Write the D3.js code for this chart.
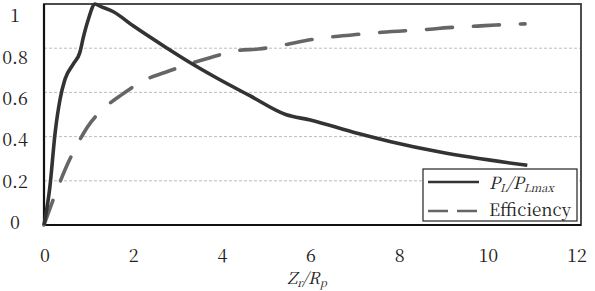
<!DOCTYPE html>
<html>
<head>
<meta charset="utf-8">
<script src="https://cdnjs.cloudflare.com/ajax/libs/d3/7.8.5/d3.min.js"></script>
</head>
<body style="margin:0; background:#fff">
<svg id="chart"></svg>
<script>
const width = 595, height = 291;
const FONT = '"Noto Serif CJK SC", "Liberation Serif", serif';

// Z_r / R_p values and the two series
const powerX = [0, 0.13, 0.25, 0.36, 0.47, 0.66, 0.8, 0.88, 0.99, 1.14, 1.25, 1.55, 2.0, 2.75, 3.26, 3.86, 4.6, 5.4, 5.95, 7.0, 7.75, 8.85, 10.8];
const powerY = [0, 0.17, 0.42, 0.57, 0.66, 0.73, 0.78, 0.85, 0.93, 1.0, 0.99, 0.965, 0.9, 0.8, 0.735, 0.665, 0.585, 0.5, 0.475, 0.415, 0.377, 0.33, 0.27];

const effX = [0, 0.31, 0.47, 0.76, 0.96, 1.41, 1.74, 2.29, 2.7, 3.26, 3.71, 4.34, 4.79, 5.42, 5.83, 6.46, 6.88, 7.55, 8.63, 9.03, 9.68, 10.1, 10.75];
const effY = [0, 0.17, 0.25, 0.37, 0.44, 0.54, 0.59, 0.66, 0.69, 0.73, 0.757, 0.79, 0.796, 0.817, 0.834, 0.852, 0.86, 0.872, 0.886, 0.893, 0.9, 0.905, 0.91];

const xTicks = [0, 2, 4, 6, 8, 10, 12];
const yTicks = [0, 0.2, 0.4, 0.6, 0.8, 1];
const yGrid = [0.2, 0.4, 0.6, 0.8];

const plotLeft = 44, plotRight = 581, plotTop = 4, plotBottom = 225;

const x = d3.scaleLinear().domain([0, 12]).range([plotLeft, plotRight]);
const y = d3.scaleLinear().domain([0, 1]).range([plotBottom, plotTop]);

// tick labels in the figure sit on a slightly tighter spacing than the grid
const xLab = d3.scaleLinear().domain([0, 12]).range([45, 577]);
const yLab = d3.scaleLinear().domain([0, 1]).range([222.5, 16]);

const svg = d3.select("#chart")
    .attr("width", width)
    .attr("height", height)
    .attr("viewBox", [0, 0, width, height])
    .style("display", "block");

svg.append("rect")
    .attr("width", width)
    .attr("height", height)
    .attr("fill", "#fff");

// grid
svg.append("g")
    .selectAll("line")
    .data(yGrid)
    .join("line")
    .attr("x1", plotLeft)
    .attr("x2", plotRight)
    .attr("y1", d => y(d))
    .attr("y2", d => y(d))
    .attr("stroke", "#bdbdbd")
    .attr("stroke-width", 1)
    .attr("stroke-dasharray", "3,2");

// plot box
svg.append("rect")
    .attr("x", plotLeft)
    .attr("y", plotTop)
    .attr("width", plotRight - plotLeft)
    .attr("height", plotBottom - plotTop)
    .attr("fill", "none")
    .attr("stroke", "#3a3a3a")
    .attr("stroke-width", 1.8);

svg.append("path")
    .attr("d", `M${plotLeft},${plotTop}V${plotBottom}H${plotRight}`)
    .attr("fill", "none")
    .attr("stroke", "#111")
    .attr("stroke-width", 2.2);

// tick labels
svg.append("g")
    .selectAll("text")
    .data(yTicks)
    .join("text")
    .attr("x", 15)
    .attr("y", d => yLab(d))
    .attr("dy", "0.36em")
    .attr("text-anchor", "middle")
    .attr("font-family", FONT)
    .attr("font-size", 18)
    .attr("fill", "#222")
    .text(d => d);

svg.append("g")
    .selectAll("text")
    .data(xTicks)
    .join("text")
    .attr("x", d => xLab(d))
    .attr("y", 256)
    .attr("dy", "0.36em")
    .attr("text-anchor", "middle")
    .attr("font-family", FONT)
    .attr("font-size", 18)
    .attr("fill", "#222")
    .text(d => d);

// axis title Z_r/R_p
const title = svg.append("text")
    .attr("x", 307)
    .attr("y", 284)
    .attr("text-anchor", "middle")
    .attr("font-family", FONT)
    .attr("font-size", 16.5)
    .attr("font-style", "italic")
    .attr("fill", "#222");
title.append("tspan").text("Z");
title.append("tspan").attr("font-size", 11).attr("dy", 3).text("r");
title.append("tspan").attr("dy", -3).text("/R");
title.append("tspan").attr("font-size", 11).attr("dy", 3).text("p");

// curves
const line = d3.line()
    .x(d => x(d[0]))
    .y(d => y(d[1]))
    .curve(d3.curveMonotoneX);

svg.append("path")
    .datum(d3.zip(effX, effY))
    .attr("fill", "none")
    .attr("stroke", "#666")
    .attr("stroke-width", 3.6)
    .attr("stroke-linecap", "round")
    .attr("stroke-dasharray", "26,21")
    .attr("d", line);

svg.append("path")
    .datum(d3.zip(powerX, powerY))
    .attr("fill", "none")
    .attr("stroke", "#333")
    .attr("stroke-width", 3.6)
    .attr("stroke-linejoin", "round")
    .attr("d", line);

// legend
const legend = svg.append("g");

legend.append("rect")
    .attr("x", 423)
    .attr("y", 169)
    .attr("width", 154)
    .attr("height", 52)
    .attr("fill", "#fff")
    .attr("stroke", "#222")
    .attr("stroke-width", 1.2);

legend.append("line")
    .attr("x1", 428).attr("x2", 479)
    .attr("y1", 182).attr("y2", 182)
    .attr("stroke", "#333")
    .attr("stroke-width", 2.6);

legend.append("line")
    .attr("x1", 428).attr("x2", 479)
    .attr("y1", 211).attr("y2", 211)
    .attr("stroke", "#666")
    .attr("stroke-width", 2.6)
    .attr("stroke-dasharray", "20,9");

const lab1 = legend.append("text")
    .attr("x", 489)
    .attr("y", 189)
    .attr("font-family", FONT)
    .attr("font-size", 17)
    .attr("font-style", "italic")
    .attr("fill", "#222");
lab1.append("tspan").text("P");
lab1.append("tspan").attr("font-size", 11).attr("dy", 3).text("L");
lab1.append("tspan").attr("dy", -3).text("/P");
lab1.append("tspan").attr("font-size", 11).attr("dy", 3).text("Lmax");

legend.append("text")
    .attr("x", 489)
    .attr("y", 216)
    .attr("font-family", FONT)
    .attr("font-size", 17)
    .attr("fill", "#222")
    .text("Efficiency");
</script>
</body>
</html>
